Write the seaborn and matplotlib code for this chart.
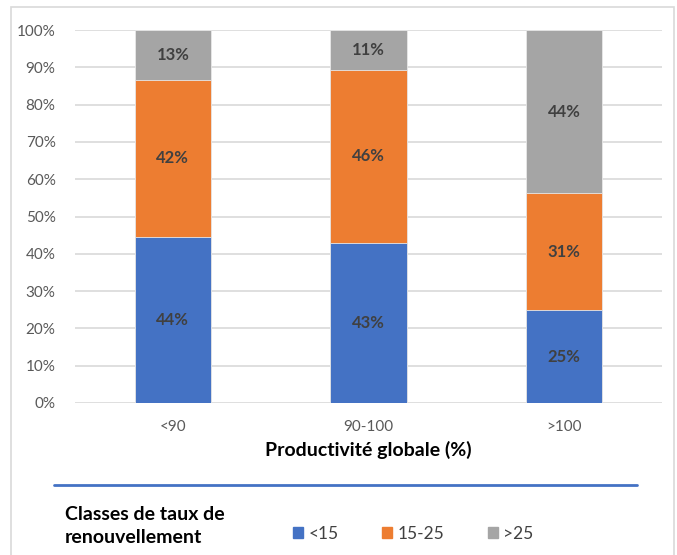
import seaborn as sns
import pandas as pd
import matplotlib.pyplot as plt
import numpy as np
from matplotlib.lines import Line2D
from matplotlib.patches import Rectangle, Patch

categories = ["<90", "90-100", ">100"]
classes = ["<15", "15-25", ">25"]
low = [44.5, 42.9, 24.9]
mid = [42.1, 46.4, 31.4]
high = [13.4, 10.7, 43.7]
colors = ["#4472c4", "#ed7d31", "#a5a5a5"]

sns.set_style("white")
plt.rcParams['font.family'] = ['Lato', 'DejaVu Sans']

fig = plt.figure(figsize=(6.77, 5.55), dpi=100)
ax = fig.add_axes([75/677, 1-403/555, 587/677, 373/555])

vals = np.array([low, mid, high])
cum = vals.cumsum(axis=0)
# draw from top so lower segments cover the upper ones (stacked look)
for i in [2, 1, 0]:
    df = pd.DataFrame({"cat": categories, "v": cum[i]})
    sns.barplot(data=df, x="cat", y="v", color=colors[i], width=0.39,
                saturation=1, ax=ax, zorder=2, linewidth=0.6, edgecolor="#e8e8e8")

for j in range(3):
    for i in range(3):
        mid_y = cum[i][j] - vals[i][j] / 2
        ax.text(j, mid_y, f"{vals[i][j]:.0f}%", ha="center", va="center",
                fontsize=12, fontweight="bold", color="#404040", zorder=3)

ax.set_ylim(0, 100)
ax.set_xlim(-0.5, 2.5)
ax.set_yticks(np.arange(0, 101, 10))
ax.set_yticklabels([f"{t}%" for t in range(0, 101, 10)])
ax.yaxis.grid(True, color="#d9d9d9", linewidth=1.2, zorder=0)
ax.set_axisbelow(True)
for s in ax.spines.values():
    s.set_visible(False)
ax.tick_params(axis="both", length=0, colors="#595959", labelsize=11)
ax.tick_params(axis="x", pad=12)
ax.tick_params(axis="y", pad=14)
ax.set_ylabel("")
ax.set_xlabel("Productivité globale (%)", fontsize=14, fontweight="bold",
              color="black", labelpad=5)

fig.add_artist(Line2D([54/677, 637/677], [1-485/555, 1-485/555],
                      color="#4472c4", lw=2))
fig.add_artist(Rectangle((11/677, -0.1), 663/677, 1.1-7/555, fill=False,
                         edgecolor="#d9d9d9", lw=1.2))

fig.text(65/677, 1-526/555, "Classes de taux de\nrenouvellement",
         fontsize=14, fontweight="bold", color="black", va="center",
         linespacing=1.45)
handles = [Patch(color=c) for c in colors]
fig.legend(handles, classes, loc="center left", ncol=3,
           bbox_to_anchor=(277/677, 1-534/555), frameon=False,
           handlelength=0.6, handleheight=0.6, handletextpad=0.3,
           columnspacing=2.5, fontsize=12.5, labelcolor="#404040")

fig.savefig("out.png", dpi=100)
